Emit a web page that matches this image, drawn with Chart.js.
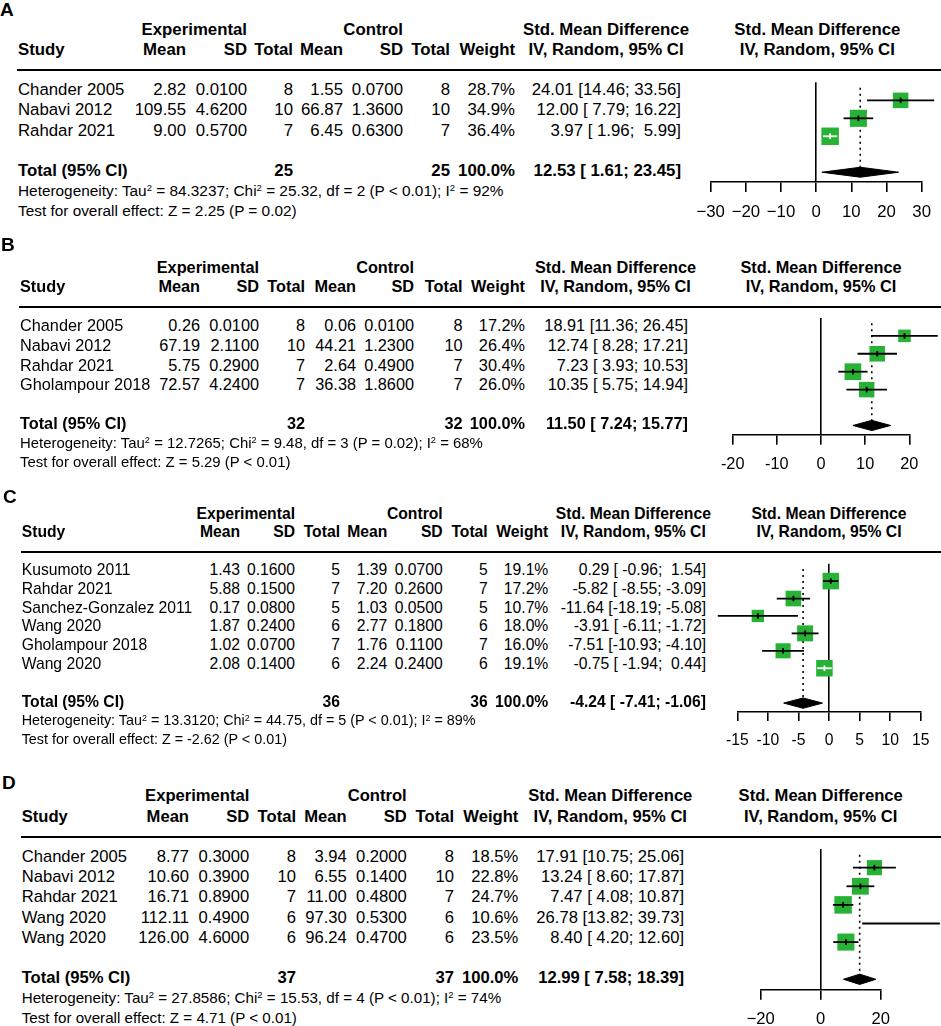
<!DOCTYPE html>
<html>
<head>
<meta charset="utf-8">
<title>Forest plots</title>
<script src="https://cdn.jsdelivr.net/npm/chart.js@4.4.1/dist/chart.umd.min.js"></script>
<style>
  html, body { margin: 0; padding: 0; background: #fff; overflow: hidden; }
  #page { position: relative; width: 941px; height: 1026px; overflow: hidden;
          font-family: 'Liberation Sans', Arial, Helvetica, sans-serif; color: #000; }
  .t { position: absolute; white-space: pre; }
  .hl { position: absolute; height: 2px; background: #000; }
  sup { font-size: 0.62em; line-height: 0; vertical-align: 0.5em; }
  canvas { position: absolute; left: 0; }
</style>
</head>
<body>
<div id="page"></div>
<script>
// ---------- Panel A ----------
const studiesA = ['Chander 2005', 'Nabavi 2012', 'Rahdar 2021'];
const expMeanA = [2.82, 109.55, 9.00];
const expSdA = [0.0100, 4.6200, 0.5700];
const expNA = [8, 10, 7];
const ctlMeanA = [1.55, 66.87, 6.45];
const ctlSdA = [0.0700, 1.3600, 0.6300];
const ctlNA = [8, 10, 7];
const weightA = [28.7, 34.9, 36.4];
const smdA = [24.01, 12.00, 3.97];
const lowerA = [14.46, 7.79, 1.96];
const upperA = [33.56, 16.22, 5.99];
const pooledA = [12.53, 1.61, 23.45]; // estimate, lower, upper
const totalNA = [25, 25];
const hetA = ['84.3237', '25.32', '2', 'P &lt; 0.01', '92'];
const testA = ['2.25', 'P = 0.02'];
const ticksA = [-30, -20, -10, 0, 10, 20, 30];
const tickLabelsA = ['\u221230', '\u221220', '\u221210', '0', '10', '20', '30'];

// ---------- Panel B ----------
const studiesB = ['Chander 2005', 'Nabavi 2012', 'Rahdar 2021', 'Gholampour 2018'];
const expMeanB = [0.26, 67.19, 5.75, 72.57];
const expSdB = [0.0100, 2.1100, 0.2900, 4.2400];
const expNB = [8, 10, 7, 7];
const ctlMeanB = [0.06, 44.21, 2.64, 36.38];
const ctlSdB = [0.0100, 1.2300, 0.4900, 1.8600];
const ctlNB = [8, 10, 7, 7];
const weightB = [17.2, 26.4, 30.4, 26.0];
const smdB = [18.91, 12.74, 7.23, 10.35];
const lowerB = [11.36, 8.28, 3.93, 5.75];
const upperB = [26.45, 17.21, 10.53, 14.94];
const pooledB = [11.50, 7.24, 15.77];
const totalNB = [32, 32];
const hetB = ['12.7265', '9.48', '3', 'P = 0.02', '68'];
const testB = ['5.29', 'P &lt; 0.01'];
const ticksB = [-20, -10, 0, 10, 20];
const tickLabelsB = ['-20', '-10', '0', '10', '20'];

// ---------- Panel C ----------
const studiesC = ['Kusumoto 2011', 'Rahdar 2021', 'Sanchez-Gonzalez 2011', 'Wang 2020', 'Gholampour 2018', 'Wang 2020'];
const expMeanC = [1.43, 5.88, 0.17, 1.87, 1.02, 2.08];
const expSdC = [0.1600, 0.1500, 0.0800, 0.2400, 0.0700, 0.1400];
const expNC = [5, 7, 5, 6, 7, 6];
const ctlMeanC = [1.39, 7.20, 1.03, 2.77, 1.76, 2.24];
const ctlSdC = [0.0700, 0.2600, 0.0500, 0.1800, 0.1100, 0.2400];
const ctlNC = [5, 7, 5, 6, 7, 6];
const weightC = [19.1, 17.2, 10.7, 18.0, 16.0, 19.1];
const smdC = [0.29, -5.82, -11.64, -3.91, -7.51, -0.75];
const lowerC = [-0.96, -8.55, -18.19, -6.11, -10.93, -1.94];
const upperC = [1.54, -3.09, -5.08, -1.72, -4.10, 0.44];
const pooledC = [-4.24, -7.41, -1.06];
const totalNC = [36, 36];
const hetC = ['13.3120', '44.75', '5', 'P &lt; 0.01', '89'];
const testC = ['-2.62', 'P &lt; 0.01'];
const ticksC = [-15, -10, -5, 0, 5, 10, 15];
const tickLabelsC = ['-15', '-10', '-5', '0', '5', '10', '15'];

// ---------- Panel D ----------
const studiesD = ['Chander 2005', 'Nabavi 2012', 'Rahdar 2021', 'Wang 2020', 'Wang 2020'];
const expMeanD = [8.77, 10.60, 16.71, 112.11, 126.00];
const expSdD = [0.3000, 0.3900, 0.8900, 0.4900, 4.6000];
const expND = [8, 10, 7, 6, 6];
const ctlMeanD = [3.94, 6.55, 11.00, 97.30, 96.24];
const ctlSdD = [0.2000, 0.1400, 0.4800, 0.5300, 0.4700];
const ctlND = [8, 10, 7, 6, 6];
const weightD = [18.5, 22.8, 24.7, 10.6, 23.5];
const smdD = [17.91, 13.24, 7.47, 26.78, 8.40];
const lowerD = [10.75, 8.60, 4.08, 13.82, 4.20];
const upperD = [25.06, 17.87, 10.87, 39.73, 12.60];
const pooledD = [12.99, 7.58, 18.39];
const totalND = [37, 37];
const hetD = ['27.8586', '15.53', '4', 'P &lt; 0.01', '74'];
const testD = ['4.71', 'P &lt; 0.01'];
const ticksD = [-20, 0, 20];
const tickLabelsD = ['\u221220', '0', '20'];

// layout of each panel (page pixels): cols = right edges of
// exp mean, exp SD, exp total, ctl mean, ctl SD, ctl total, weight, CI
const layoutA = { label: 'A', labelX: 0, labelY: 10, lineY: 70, row: 20.2, font: 16.8, left: 18,
  cols: [186, 247, 293, 343, 403, 450, 515, 681], ciHead: 606,
  axisL: 710.7, axisR: 924, axisGap: 0.55, boxMax: 17.5, tick: 10 };
const layoutB = { label: 'B', labelX: 1, labelY: 245, lineY: 306.5, row: 19.6, font: 16.3, left: 20,
  cols: [200, 259, 305, 356, 414, 462.5, 525, 688], ciHead: 615.5,
  axisL: 732.7, axisR: 909.3, axisGap: 0.52, boxMax: 16.7, tick: 10 };
const layoutC = { label: 'C', labelX: 3, labelY: 497.5, lineY: 551.7, row: 18.8, font: 15.7, left: 21.7,
  cols: [240, 295, 340, 387.3, 442.7, 487.7, 548.3, 706], ciHead: 633.3,
  axisL: 737.3, axisR: 920.7, axisGap: 0.51, boxMax: 16.5, tick: 9 };
const layoutD = { label: 'D', labelX: 2, labelY: 783, lineY: 836.7, row: 20.2, font: 16.6, left: 21.7,
  cols: [189, 249.3, 296, 346.7, 406.7, 454, 518.3, 684], ciHead: 610.3,
  axisL: 760.7, axisR: 880.7, axisGap: 0.56, boxMax: 17.5, tick: 10 };

const PAGE_W = 941;
const GREEN = '#27b236';
const FONT = "'Liberation Sans', Arial, Helvetica, sans-serif";
const FOOT_SCALE = 0.915; // heterogeneity lines use a smaller font
const page = document.getElementById('page');

// put one text item, vertically centred on yc
function text(str, x, yc, align, bold, size, html) {
  const el = document.createElement('div');
  const lh = size * 1.2;
  el.className = 't';
  el.style.fontSize = size + 'px';
  el.style.lineHeight = lh + 'px';
  el.style.top = (yc - lh / 2) + 'px';
  if (bold) el.style.fontWeight = 'bold';
  if (align === 'right') {
    el.style.right = (PAGE_W - x) + 'px';
  } else if (align === 'center') {
    el.style.left = (x - 150) + 'px';
    el.style.width = '300px';
    el.style.textAlign = 'center';
  } else {
    el.style.left = x + 'px';
  }
  if (html) el.innerHTML = str; else el.textContent = str;
  page.appendChild(el);
}

// "est [lo; hi]" strings, padded like the meta package does
function ciStrings(est, lo, hi, pooled) {
  const los = lo.concat([pooled[1]]).map(v => v.toFixed(2));
  const his = hi.concat([pooled[2]]).map(v => v.toFixed(2));
  const wl = Math.max(...los.map(s => s.length));
  const wh = Math.max(...his.map(s => s.length));
  return est.concat([pooled[0]]).map((e, i) =>
    e.toFixed(2) + ' [' + los[i].padStart(wl) + '; ' + his[i].padStart(wh) + ']');
}

function drawPanel(P) {
  const L = P.L;
  const n = P.studies.length;
  const y = k => L.lineY + k * L.row;
  const mid = (L.axisL + L.axisR) / 2;
  const c = L.cols;

  // panel letter
  text(L.label, L.labelX, L.labelY, 'left', true, 19);

  // headers
  text('Experimental', c[1], y(-2), 'right', true, L.font);
  text('Control', c[4], y(-2), 'right', true, L.font);
  text('Std. Mean Difference', L.ciHead, y(-2), 'center', true, L.font);
  text('Std. Mean Difference', mid, y(-2), 'center', true, L.font);
  text('Study', L.left, y(-1), 'left', true, L.font);
  ['Mean', 'SD', 'Total', 'Mean', 'SD', 'Total', 'Weight'].forEach((h, i) =>
    text(h, c[i], y(-1), 'right', true, L.font));
  text('IV, Random, 95% CI', L.ciHead, y(-1), 'center', true, L.font);
  text('IV, Random, 95% CI', mid, y(-1), 'center', true, L.font);

  const hl = document.createElement('div');
  hl.className = 'hl';
  hl.style.left = (L.left - 1) + 'px';
  hl.style.width = (PAGE_W - L.left + 1) + 'px';
  hl.style.top = (L.lineY - 1) + 'px';
  page.appendChild(hl);

  // study rows
  const cis = ciStrings(P.smd, P.lower, P.upper, P.pooled);
  P.studies.forEach((s, i) => {
    const yy = y(i + 1);
    text(s, L.left, yy, 'left', false, L.font);
    text(P.expMean[i].toFixed(2), c[0], yy, 'right', false, L.font);
    text(P.expSd[i].toFixed(4), c[1], yy, 'right', false, L.font);
    text(String(P.expN[i]), c[2], yy, 'right', false, L.font);
    text(P.ctlMean[i].toFixed(2), c[3], yy, 'right', false, L.font);
    text(P.ctlSd[i].toFixed(4), c[4], yy, 'right', false, L.font);
    text(String(P.ctlN[i]), c[5], yy, 'right', false, L.font);
    text(P.weight[i].toFixed(1) + '%', c[6], yy, 'right', false, L.font);
    text(cis[i], c[7], yy, 'right', false, L.font);
  });

  // total + footnotes
  const yt = y(n + 2);
  text('Total (95% CI)', L.left, yt, 'left', true, L.font);
  text(String(P.totalN[0]), c[2], yt, 'right', true, L.font);
  text(String(P.totalN[1]), c[5], yt, 'right', true, L.font);
  text('100.0%', c[6], yt, 'right', true, L.font);
  text(cis[n], c[7], yt, 'right', true, L.font);
  const h = P.het;
  const fs = L.font * FOOT_SCALE;
  text('Heterogeneity: Tau<sup>2</sup> = ' + h[0] + '; Chi<sup>2</sup> = ' + h[1] + ', df = ' + h[2] +
       ' (' + h[3] + '); I<sup>2</sup> = ' + h[4] + '%', L.left, y(n + 3), 'left', false, fs, true);
  text('Test for overall effect: Z = ' + P.test[0] + ' (' + P.test[1] + ')', L.left, y(n + 4), 'left', false, fs, true);

  // ---- forest plot ----
  const yMax = n + 2 + L.axisGap;
  const chartH = yMax * L.row;
  const tickPad = 10;
  const axisH = L.tick + L.font * 1.2 + 2 * tickPad;
  const H = Math.ceil(chartH + axisH + 6);
  const cv = document.createElement('canvas');
  cv.width = PAGE_W;
  cv.height = H;
  cv.style.top = L.lineY + 'px';
  cv.style.width = PAGE_W + 'px';
  cv.style.height = H + 'px';
  page.appendChild(cv);

  const tmin = P.ticks[0], tmax = P.ticks[P.ticks.length - 1];
  const pxPerUnit = (L.axisR - L.axisL) / (tmax - tmin);
  const wmax = Math.max(...P.weight);
  const sides = P.weight.map(w => L.boxMax * Math.sqrt(w / wmax));
  // CI narrower than its box is drawn in white
  const inside = P.smd.map((v, i) => (P.upper[i] - P.lower[i]) * pxPerUnit < 0.9 * sides[i]);
  const pts = P.smd.map((v, i) => ({ x: v, y: i + 1 }));

  const datasets = [];
  // dotted line at pooled estimate
  datasets.push({
    data: [{ x: P.pooled[0], y: 0.3 }, { x: P.pooled[0], y: n + 2 }],
    borderColor: '#000', borderWidth: 1.6, borderDash: [2, 4], pointRadius: 0, order: 9
  });
  // weight boxes
  datasets.push({
    data: pts, showLine: false, pointStyle: 'rect',
    pointRadius: sides.map(s => s / (2 * Math.SQRT1_2)),
    pointBackgroundColor: GREEN, pointBorderWidth: 0, order: 8, clip: false
  });
  // confidence intervals
  P.smd.forEach((v, i) => datasets.push({
    data: [{ x: P.lower[i], y: i + 1 }, { x: P.upper[i], y: i + 1 }],
    borderColor: inside[i] ? '#fff' : '#000', borderWidth: 1.8, pointRadius: 0, order: 5, clip: false
  }));
  // small vertical mark at each estimate
  datasets.push({
    data: pts, showLine: false, pointStyle: 'line', pointRotation: 90, pointRadius: 2.8,
    pointBorderColor: inside.map(b => b ? '#fff' : '#000'), pointBorderWidth: 1.8, order: 4, clip: false
  });
  // pooled diamond
  const dy = 5.6 / L.row, yd = n + 2;
  datasets.push({
    data: [{ x: P.pooled[1], y: yd }, { x: P.pooled[0], y: yd - dy }, { x: P.pooled[2], y: yd },
           { x: P.pooled[0], y: yd + dy }, { x: P.pooled[1], y: yd }],
    borderColor: '#000', backgroundColor: '#000', borderWidth: 1, pointRadius: 0, fill: 'shape', order: 3
  });

  new Chart(cv, {
    type: 'line',
    data: { datasets: datasets },
    options: {
      responsive: false,
      animation: false,
      events: [],
      layout: { padding: { left: L.axisL, right: PAGE_W - L.axisR, top: 0, bottom: H - chartH - axisH } },
      plugins: { legend: { display: false }, tooltip: { enabled: false } },
      scales: {
        x: {
          type: 'linear', min: tmin, max: tmax,
          afterBuildTicks: s => { s.ticks = P.ticks.map(v => ({ value: v })); },
          grid: {
            drawOnChartArea: true,
            color: ctx => (ctx.tick && ctx.tick.value === 0) ? '#000' : 'rgba(0,0,0,0)',
            lineWidth: 1.6, tickColor: '#000', tickLength: L.tick, tickWidth: 1.6
          },
          border: { display: true, color: '#000', width: 1.6 },
          ticks: {
            color: '#000', padding: tickPad, autoSkip: false, maxRotation: 0,
            font: { family: FONT, size: L.font },
            callback: (v, i) => P.tickLabels[i]
          }
        },
        y: { type: 'linear', reverse: true, min: 0, max: yMax, display: false }
      }
    }
  });
}

const panels = [
  { L: layoutA, studies: studiesA, expMean: expMeanA, expSd: expSdA, expN: expNA, ctlMean: ctlMeanA,
    ctlSd: ctlSdA, ctlN: ctlNA, weight: weightA, smd: smdA, lower: lowerA, upper: upperA,
    pooled: pooledA, totalN: totalNA, het: hetA, test: testA, ticks: ticksA, tickLabels: tickLabelsA },
  { L: layoutB, studies: studiesB, expMean: expMeanB, expSd: expSdB, expN: expNB, ctlMean: ctlMeanB,
    ctlSd: ctlSdB, ctlN: ctlNB, weight: weightB, smd: smdB, lower: lowerB, upper: upperB,
    pooled: pooledB, totalN: totalNB, het: hetB, test: testB, ticks: ticksB, tickLabels: tickLabelsB },
  { L: layoutC, studies: studiesC, expMean: expMeanC, expSd: expSdC, expN: expNC, ctlMean: ctlMeanC,
    ctlSd: ctlSdC, ctlN: ctlNC, weight: weightC, smd: smdC, lower: lowerC, upper: upperC,
    pooled: pooledC, totalN: totalNC, het: hetC, test: testC, ticks: ticksC, tickLabels: tickLabelsC },
  { L: layoutD, studies: studiesD, expMean: expMeanD, expSd: expSdD, expN: expND, ctlMean: ctlMeanD,
    ctlSd: ctlSdD, ctlN: ctlND, weight: weightD, smd: smdD, lower: lowerD, upper: upperD,
    pooled: pooledD, totalN: totalND, het: hetD, test: testD, ticks: ticksD, tickLabels: tickLabelsD }
];

Chart.defaults.font.family = FONT;
panels.forEach(drawPanel);
</script>
</body>
</html>
